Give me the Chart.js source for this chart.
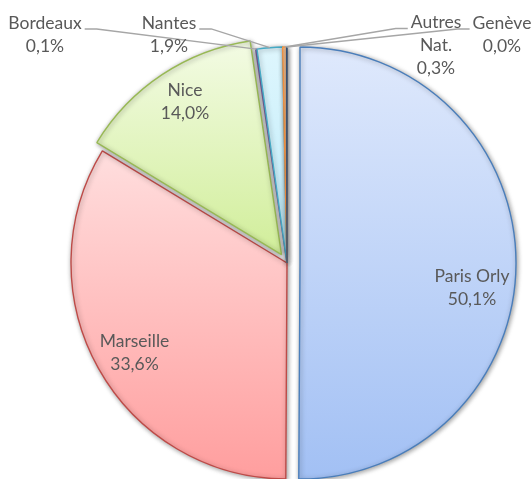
<!DOCTYPE html>
<html><head><meta charset="utf-8">
<script src="https://cdn.jsdelivr.net/npm/chart.js@4"></script>
<style>html,body{margin:0;padding:0;background:#fff;overflow:hidden}#wrap{width:531px;height:479px;position:relative}</style>
</head><body><div id="wrap"><canvas id="c"></canvas></div>
<script>
// ---- data ----
const categories = ['Paris Orly', 'Marseille', 'Nice', 'Bordeaux', 'Nantes', 'Autres Nat.', 'Genève'];
const shares = [50.1, 33.6, 14.0, 0.1, 1.9, 0.3, 0.02];
const labelLines = [['Paris Orly'], ['Marseille'], ['Nice'], ['Bordeaux'], ['Nantes'], ['Autres', 'Nat.'], ['Genève']];

// ---- style ----
const fillTop    = ['#dfe9fc', '#ffdede', '#f3fbe4', '#e4ddf0', '#def6fd', '#fbc99c', '#4a6a96'];
const fillBottom = ['#a2c0f4', '#ff9e9e', '#d1ee9a', '#b6a3d5', '#bdebfa', '#f7a45f', '#2c4d75'];
const borderCols = ['#4a7ebb', '#be4b48', '#98b954', '#7d60a0', '#46aac5', '#f69240', '#2c4d75'];
const explode    = [13, 0, 10, 0, 0, 0, 0];
// label block centres, px from pie centre
const labelPos = [[185, 25], [-152.5, 90], [-102, -161], [-242, -228.5], [-118, -228.5], [149, -217.5], [215, -228.5]];
const outside  = [false, false, false, true, true, true, true];
const FONT = '17.5px Lato, "Open Sans", sans-serif';
const LINE_H = 23;

const fmt = v => v.toFixed(1).replace('.', ',') + '%';

const decor = {
  id: 'decor',
  beforeDatasetDraw(chart) {
    const ctx = chart.ctx;
    const meta = chart.getDatasetMeta(0);
    meta.data.forEach((arc, i) => {
      const a = (arc.startAngle + arc.endAngle) / 2;
      arc._bx = arc.x; arc._by = arc.y;
      arc.x += Math.cos(a) * explode[i];
      arc.y += Math.sin(a) * explode[i];
      const ys = [arc.y];
      for (let k = 0; k <= 40; k++) {
        const t = arc.startAngle + (arc.endAngle - arc.startAngle) * k / 40;
        ys.push(arc.y + Math.sin(t) * arc.outerRadius);
      }
      const y0 = Math.min(...ys), y1 = Math.max(...ys);
      const g = ctx.createLinearGradient(0, y0, 0, y1 + 0.01);
      g.addColorStop(0, fillTop[i]);
      g.addColorStop(1, fillBottom[i]);
      arc.options = Object.assign({}, arc.options, {backgroundColor: g});
    });
    ctx.save();
    ctx.shadowColor = 'rgba(0,0,0,0.4)';
    ctx.shadowBlur = 5;
    ctx.shadowOffsetX = 1;
    ctx.shadowOffsetY = 1;
  },
  afterDatasetDraw(chart) {
    chart.ctx.restore();
    chart.getDatasetMeta(0).data.forEach(arc => { arc.x = arc._bx; arc.y = arc._by; });
  },
  afterDatasetsDraw(chart) {
    const ctx = chart.ctx;
    const meta = chart.getDatasetMeta(0);
    ctx.save();
    ctx.font = FONT;
    ctx.fillStyle = '#595959';
    ctx.textAlign = 'center';
    ctx.textBaseline = 'middle';
    meta.data.forEach((arc, i) => {
      const cx = arc.x, cy = arc.y;
      const lines = labelLines[i].concat([fmt(shares[i])]);
      const bx = cx + labelPos[i][0];
      const by = cy + labelPos[i][1];
      const top = by - (lines.length - 1) * LINE_H / 2;
      lines.forEach((s, k) => ctx.fillText(s, bx, top + k * LINE_H));
      if (outside[i]) {
        const a = (arc.startAngle + arc.endAngle) / 2;
        const px = cx + Math.cos(a) * arc.outerRadius;
        const py = cy + Math.sin(a) * arc.outerRadius;
        const w = ctx.measureText(lines[0]).width;
        const dir = px > bx ? 1 : -1;
        const sx = bx + dir * (w / 2 + 3);
        const sy = top + 6;
        ctx.save();
        ctx.strokeStyle = '#a6a6a6';
        ctx.lineWidth = 1.3;
        ctx.beginPath();
        ctx.moveTo(sx, sy);
        ctx.lineTo(sx + dir * 12, sy);
        ctx.lineTo(px, py);
        ctx.stroke();
        ctx.restore();
      }
    });
    ctx.restore();
  }
};

new Chart(document.getElementById('c'), {
  type: 'pie',
  data: {
    labels: categories,
    datasets: [{
      data: shares,
      backgroundColor: fillBottom,
      borderColor: borderCols,
      borderWidth: 1.4
    }]
  },
  options: {
    responsive: true,
    maintainAspectRatio: false,
    animation: false,
    events: [],
    radius: 216,
    layout: {padding: {left: 43, right: 0, top: 47, bottom: 0}},
    plugins: {legend: {display: false}, tooltip: {enabled: false}}
  },
  plugins: [decor]
});
</script>
</body></html>
